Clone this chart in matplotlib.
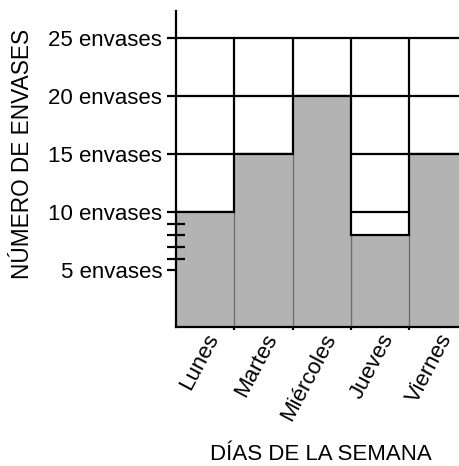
import matplotlib
matplotlib.use('Agg')
import matplotlib.pyplot as plt
import matplotlib.transforms as mtransforms

# Datos
dias = ['Lunes', 'Martes', 'Miércoles', 'Jueves', 'Viernes']
envases = [10, 15, 20, 8, 15]
marcas_y = [5, 10, 15, 20, 25]
etiquetas_y = ['5 envases', '10 envases', '15 envases', '20 envases', '25 envases']
marcas_menores = [6, 7, 8, 9]
lineas_h = [10, 15, 20, 25]

plt.rcParams['font.family'] = ['Liberation Sans', 'DejaVu Sans']

fig = plt.figure(figsize=(4.59, 4.66), dpi=100)
ax = fig.add_axes([0.3834, 0.2989, 0.6166, 0.6775])

tope = max(lineas_h)
n = len(dias)
centros = [i + 0.5 for i in range(n)]

# Lineas horizontales de la cuadricula (detras de las barras)
for h in lineas_h:
    ax.axhline(h, color='black', lw=1.6, zorder=0.5)

# Barras
ax.bar(centros, envases, width=1.0, color='#b3b3b3', edgecolor='none', zorder=1)

# Lineas verticales entre columnas
for i in range(1, n + 1):
    izq = envases[i - 1]
    der = envases[i] if i < n else 0
    bajo = min(izq, der)
    ax.plot([i, i], [bajo, tope], color='black', lw=1.6, zorder=2, solid_capstyle='butt')
    if bajo > 0:
        ax.plot([i, i], [0, bajo], color='#6e6e6e', lw=1.0, zorder=2, solid_capstyle='butt')

# Borde superior de cada barra
for i, v in enumerate(envases):
    ax.plot([i, i + 1], [v, v], color='black', lw=1.6, zorder=2, solid_capstyle='projecting')

ax.set_xlim(0, 4.85)
ax.set_ylim(0.15, 27.3)

for s in ['top', 'right']:
    ax.spines[s].set_visible(False)
ax.spines['left'].set_linewidth(1.6)
ax.spines['bottom'].set_linewidth(1.6)
ax.spines['left'].set_zorder(3)
ax.spines['bottom'].set_zorder(3)

ax.set_yticks(marcas_y)
ax.set_yticklabels(etiquetas_y, fontsize=16)
ax.set_yticks(marcas_menores, minor=True)
ax.tick_params(axis='y', which='major', direction='out', length=6.5, width=1.6, pad=3.5)
ax.tick_params(axis='y', which='minor', direction='inout', length=12.5, width=1.6)

ax.set_xticks(centros)
ax.set_xticklabels(dias, fontsize=16, rotation=62, ha='right', va='center',
                   rotation_mode='anchor')
ax.set_xticks(list(range(1, n)), minor=True)
ax.tick_params(axis='x', which='major', length=0, pad=6)
ax.tick_params(axis='x', which='minor', direction='out', length=2.5, width=1.6)

desplazamiento = mtransforms.ScaledTranslation(9 / 100, 0, fig.dpi_scale_trans)
for lab in ax.get_xticklabels():
    lab.set_transform(lab.get_transform() + desplazamiento)

fig.text(23 / 459, 1 - 154 / 466, 'NÚMERO DE ENVASES', rotation=90,
         ha='center', va='center', fontsize=16.3)
fig.text(321 / 459, 1 - 454 / 466, 'DÍAS DE LA SEMANA', ha='center', va='center',
         fontsize=16)

fig.savefig('out.png', dpi=100)
